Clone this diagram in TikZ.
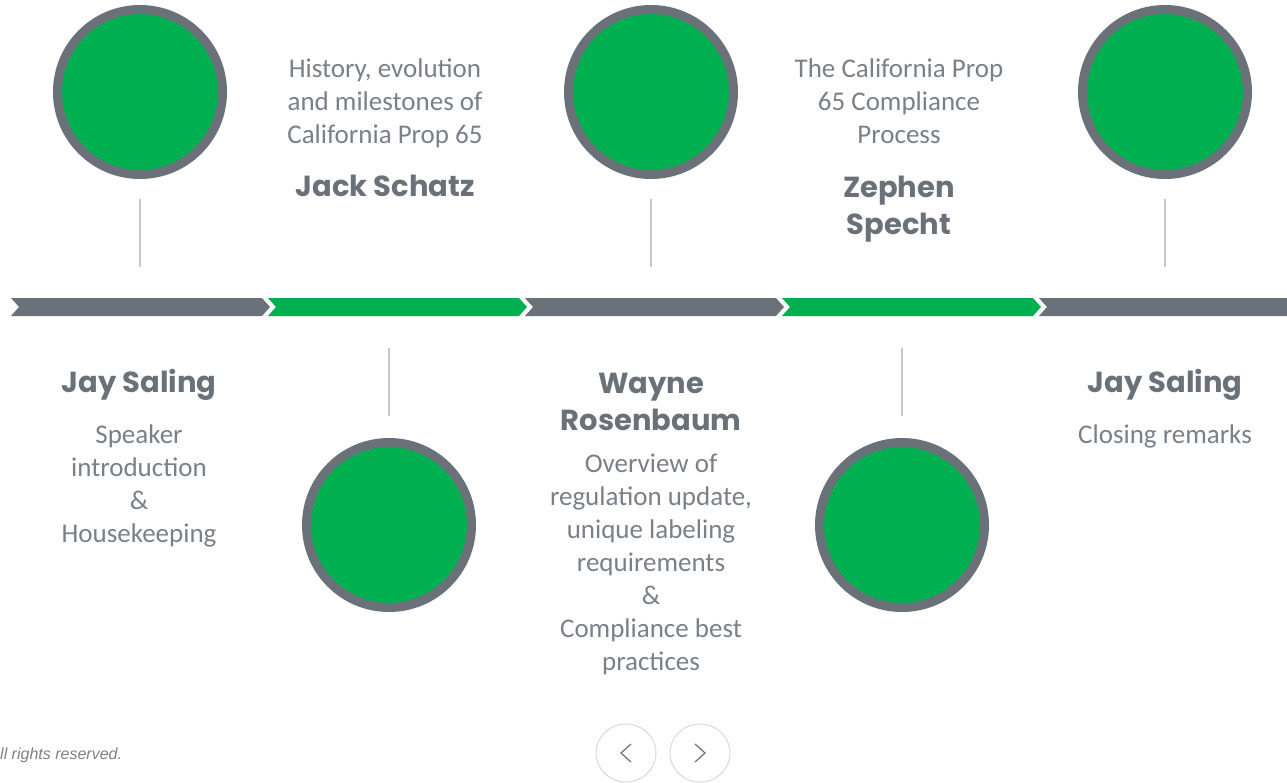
\documentclass[tikz,border=0pt]{standalone}
\usepackage{fontspec}
\setmainfont{Carlito}
\newfontfamily\headfont{Poppins}
\newfontfamily\notefont{Liberation Sans}
\usetikzlibrary{shapes.geometric}
\definecolor{ringgray}{HTML}{6B7179}
\definecolor{markgreen}{HTML}{00B050}
\definecolor{stemgray}{HTML}{C8C8C8}
\definecolor{textgray}{HTML}{7A8087}
\definecolor{navgray}{HTML}{D9D9D9}
\tikzset{
  bubble/.style={circle,draw=ringgray,line width=9pt,fill=markgreen,minimum size=165pt,inner sep=0pt},
  stem/.style={stemgray,line width=1.5pt},
  who/.style={text=ringgray,align=center,font=\headfont\bfseries\fontsize{29}{37}\selectfont},
  what/.style={text=textgray,align=center,font=\fontsize{27}{33}\selectfont},
  navbtn/.style={ellipse,draw=navgray,line width=1pt,minimum width=60pt,minimum height=58pt,inner sep=0pt},
  navtip/.style={ringgray,line width=1.2pt},
}
\begin{document}
\begin{tikzpicture}[x=1pt,y=-1pt]
\useasboundingbox (0,0) rectangle (1287,782);
% timeline bar
\foreach \s/\c in {11/ringgray,268/markgreen,525/ringgray,782/markgreen}
  \fill[\c] (\s,298) -- (\s+251,298) -- (\s+259,307) -- (\s+251,316) -- (\s,316) -- (\s+8,307) -- cycle;
\fill[ringgray] (1039,298) -- (1287,298) -- (1287,316) -- (1039,316) -- (1047,307) -- cycle;
% circles
\node[bubble] (jay) at (140,92) {};
\node[bubble] (wayne) at (651,92) {};
\node[bubble] (close) at (1165,92) {};
\node[bubble] (jack) at (389,525) {};
\node[bubble] (zephen) at (902,525) {};
% stems
\foreach \n in {jay,wayne,close}
  \draw[stem] ([yshift=-20pt]\n.south) -- ++(0,68);
\foreach \n in {jack,zephen}
  \draw[stem] ([yshift=22pt]\n.north) -- ++(0,-68);
% texts
\node[what] (jackwhat) at (385,103) {History, evolution\\and milestones of\\California Prop 65};
\node[who] (jackwho) at (385,186) {Jack Schatz};
\node[who] (jaywho) at (139,385) {Jay Saling};
\node[what] (jaywhat) at (139,486) {Speaker\\introduction\\\&\\Housekeeping};
\node[who] (waynewho) at (651,402) {Wayne\\Rosenbaum};
\node[what] (waynewhat) at (651,564) {Overview of\\regulation update,\\unique labeling\\requirements\\\&\\Compliance best\\practices};
\node[what] (zephenwhat) at (899,101) {The California Prop\\65 Compliance\\Process};
\node[who] (zephenwho) at (899,209) {Zephen\\Specht};
\node[who] (closewho) at (1165,385) {Jay Saling};
\node[what] (closewhat) at (1165,436) {Closing remarks};
% navigation
\node[navbtn] (prev) at (626,753) {};
\node[navbtn] (next) at (700,753) {};
\draw[navtip] (631,744) -- (621,753) -- (631,762);
\draw[navtip] (695,744) -- (705,753) -- (695,762);
\node[anchor=west,inner sep=0pt,text=gray,font=\notefont\itshape\fontsize{16}{16}\selectfont] (rights) at (0,755) {ll rights reserved.};
\end{tikzpicture}
\end{document}
